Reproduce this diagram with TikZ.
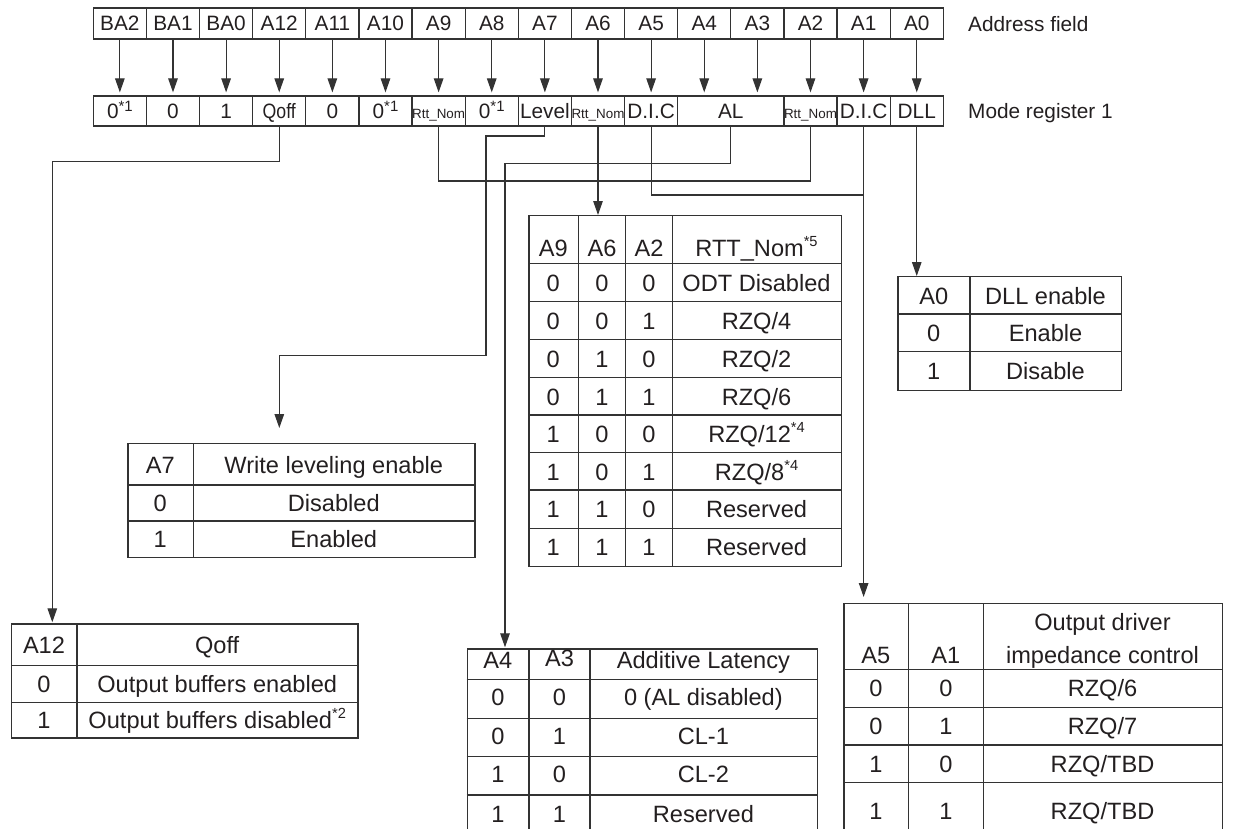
\documentclass[tikz,border=0pt]{standalone}
\usepackage{fontspec}
\setmainfont{Liberation Sans}
\usepackage{graphicx}
\usetikzlibrary{arrows.meta}
\definecolor{ink}{HTML}{231F20}
\definecolor{linec}{HTML}{333333}
\newcommand\upnote[1]{\raisebox{0.42em}{\scalebox{0.62}{#1}}}
\newcommand\regnote[1]{\raisebox{0.36em}{\scalebox{0.72}{#1}}}
\newcommand\regfont{\fontsize{20.8}{24}\selectfont}
\newcommand\tblfont{\fontsize{23.6}{28}\selectfont}
\newcommand\tinyfont{\fontsize{13.4}{14}\selectfont}
\begin{document}
\begin{tikzpicture}[x=1pt,y=-1pt,
  ln/.style={line width=1.2pt, draw=linec},
  cell/.style={ln, minimum width=53.125pt, minimum height=31pt, inner sep=0pt, text=ink, font=\regfont, text height=15pt, text depth=0pt},
  tbox/.style={ln, inner sep=0pt, anchor=north west},
  tt/.style={inner sep=0pt, text=ink, font=\tblfont, text height=16.9pt, text depth=0pt},
  arr/.style={ln, -{Triangle[length=14pt,width=9.5pt]}},
  wire/.style={ln},
  lab/.style={inner sep=0pt, text=ink, font=\regfont, anchor=west, text height=15pt, text depth=0pt}
]
\useasboundingbox (0,0) rectangle (1233,829);
\clip (0,0) rectangle (1233,829);

% ---------- address field ----------
\foreach \t [count=\i from 0] in {BA2,BA1,BA0,A12,A11,A10,A9,A8,A7,A6,A5,A4,A3,A2,A1,A0}
  \node[cell] (af\i) at ({93.3+53.125*(\i+0.5)},23.5) {\t};

% ---------- mode register ----------
\foreach \i/\t in {0/{0\regnote{*1}},1/0,2/1,3/{\scalebox{0.85}[1]{Qoff}},4/0,5/{0\regnote{*1}},6/{\tinyfont Rtt\_Nom},7/{0\regnote{*1}},8/Level,9/{\tinyfont Rtt\_Nom},10/D.I.C,13/{\tinyfont Rtt\_Nom},14/D.I.C,15/DLL}
  \node[cell, minimum height=30pt] (mr\i) at ({93.3+53.125*(\i+0.5)},111) {\t};
\node[cell, minimum height=30pt, minimum width=106.25pt] (mrAL) at (730.8,111) {AL};

\node[lab] (lbaf) at (968,24.5) {Address field};
\node[lab] (lbmr) at (968,111) {Mode register 1};

\foreach \i in {0,...,15}
  \draw[arr, shorten >=3pt] (af\i.south) -- (af\i.south |- mrAL.north);

% ---------- tables ----------
% RTT_Nom
\node[tbox, minimum width=312.4pt, minimum height=351pt] (rtt) at (528.3,215) {};
\foreach \x in {578.3,625.7,672.3} \draw[ln] (\x,215) -- (\x,566);
\foreach \y in {263.3,301.7,339.3,377.3,415,452.7,490,528.3} \draw[ln] (528.3,\y) -- (840.7,\y);
\node[tt] (rtt-h1) at (553.3,248.3) {A9};
\node[tt] (rtt-h2) at (602,248.3) {A6};
\node[tt] (rtt-h3) at (649,248.3) {A2};
\node[tt] (rtt-h4) at (756.5,248.3) {RTT\_Nom\upnote{*5}};
\foreach \yc/\a/\b/\c/\d [count=\r] in {283.5/0/0/0/{ODT Disabled},321/0/0/1/{RZQ/4},358.8/0/1/0/{RZQ/2},396.6/0/1/1/{RZQ/6},434.2/1/0/0/{RZQ/12\upnote{*4}},471.6/1/0/1/{RZQ/8\upnote{*4}},509.4/1/1/0/{Reserved},547.4/1/1/1/{Reserved}} {
  \node[tt] (rtt-\r-1) at (553.3,\yc) {\a};
  \node[tt] (rtt-\r-2) at (602,\yc) {\b};
  \node[tt] (rtt-\r-3) at (649,\yc) {\c};
  \node[tt] (rtt-\r-4) at (756.5,\yc) {\d};
}

% DLL
\node[tbox, minimum width=223.7pt, minimum height=114pt] (dll) at (897.3,276) {};
\draw[ln] (970,276) -- (970,390);
\foreach \y in {314,351.7} \draw[ln] (897.3,\y) -- (1121,\y);
\node[tt] (dll-h1) at (933.7,296) {A0};
\node[tt] (dll-h2) at (1045.5,296) {DLL enable};
\node[tt] (dll-11) at (933.7,333.5) {0};
\node[tt] (dll-12) at (1045.5,333.5) {Enable};
\node[tt] (dll-21) at (933.7,371.2) {1};
\node[tt] (dll-22) at (1045.5,371.2) {Disable};

% Write leveling
\node[tbox, minimum width=347pt, minimum height=114pt] (wl) at (127.3,443) {};
\draw[ln] (193.3,443) -- (193.3,557);
\foreach \y in {485,521} \draw[ln] (127.3,\y) -- (474.3,\y);
\node[tt] (wl-h1) at (160.3,465) {A7};
\node[tt] (wl-h2) at (333.8,465) {Write leveling enable};
\node[tt] (wl-11) at (160.3,503) {0};
\node[tt] (wl-12) at (333.8,503) {Disabled};
\node[tt] (wl-21) at (160.3,539) {1};
\node[tt] (wl-22) at (333.8,539) {Enabled};

% Qoff
\node[tbox, minimum width=346.3pt, minimum height=114pt] (qoff) at (11,623.3) {};
\draw[ln] (77,623.3) -- (77,737.3);
\foreach \y in {665.7,702.7} \draw[ln] (11,\y) -- (357.3,\y);
\node[tt] (qo-h1) at (44,645) {A12};
\node[tt] (qo-h2) at (217.2,645) {Qoff};
\node[tt] (qo-11) at (44,684.2) {0};
\node[tt] (qo-12) at (217.2,684.2) {Output buffers enabled};
\node[tt] (qo-21) at (44,720) {1};
\node[tt] (qo-22) at (217.2,720) {Output buffers disabled\upnote{*2}};

% Additive latency
\node[tbox, minimum width=350pt, minimum height=190pt] (alt) at (466.7,648.3) {};
\foreach \x in {529,590} \draw[ln] (\x,648.3) -- (\x,838.3);
\foreach \y in {679.3,718.3,756.7,795} \draw[ln] (466.7,\y) -- (816.7,\y);
\node[tt] (al-h1) at (497.9,660) {A4};
\node[tt] (al-h2) at (559.5,658) {A3};
\node[tt] (al-h3) at (703.4,660) {Additive Latency};
\foreach \yc/\a/\b/\c [count=\r] in {697.5/0/0/{0 (AL disabled)},736.5/0/1/{CL-1},774.5/1/0/{CL-2},814/1/1/{Reserved}} {
  \node[tt] (al-\r-1) at (497.9,\yc) {\a};
  \node[tt] (al-\r-2) at (559.5,\yc) {\b};
  \node[tt] (al-\r-3) at (703.4,\yc) {\c};
}

% Output driver impedance control
\node[tbox, minimum width=378.4pt, minimum height=240pt] (odt) at (843.3,603) {};
\foreach \x in {908.3,983.3} \draw[ln] (\x,603) -- (\x,843);
\foreach \y in {669.3,707.3,745,782.7} \draw[ln] (843.3,\y) -- (1221.7,\y);
\node[tt] (od-h1) at (875.8,655) {A5};
\node[tt] (od-h2) at (945.8,655) {A1};
\node[tt] (od-h3a) at (1102.5,621.7) {Output driver};
\node[tt] (od-h3b) at (1102.5,655) {impedance control};
\foreach \yc/\a/\b/\c [count=\r] in {688.3/0/0/{RZQ/6},726.2/0/1/{RZQ/7},763.9/1/0/{RZQ/TBD},811/1/1/{RZQ/TBD}} {
  \node[tt] (od-\r-1) at (875.8,\yc) {\a};
  \node[tt] (od-\r-2) at (945.8,\yc) {\b};
  \node[tt] (od-\r-3) at (1102.5,\yc) {\c};
}

% ---------- connectors ----------
\coordinate (qa) at (52.3,161.7);
\draw[arr, shorten >=1pt] (mr3.south) |- (qa) -- (qa |- qoff.north);

\coordinate (lv1) at (486,136);
\coordinate (lv2) at (279.3,355.3);
\draw[arr, shorten >=15pt] (mr8.south) |- (lv1) |- (lv2) -- (lv2 |- wl.north);

\coordinate (rty) at (0,181);
\draw[wire] (mr6.south) |- (mr13.south |- rty) -- (mr13.south);
\draw[arr] (mr9.south) -- (mr9.south |- rtt.north);

\coordinate (al1) at (505,163.3);
\draw[arr, shorten >=1pt] (mrAL.south) |- (al1) -- (al1 |- alt.north);

\coordinate (dcy) at (0,195);
\draw[wire] (mr10.south) |- (mr14.south |- dcy);
\draw[arr, shorten >=6pt] (mr14.south) -- (mr14.south |- odt.north);

\draw[arr] (mr15.south) -- (mr15.south |- dll.north);
\end{tikzpicture}
\end{document}
